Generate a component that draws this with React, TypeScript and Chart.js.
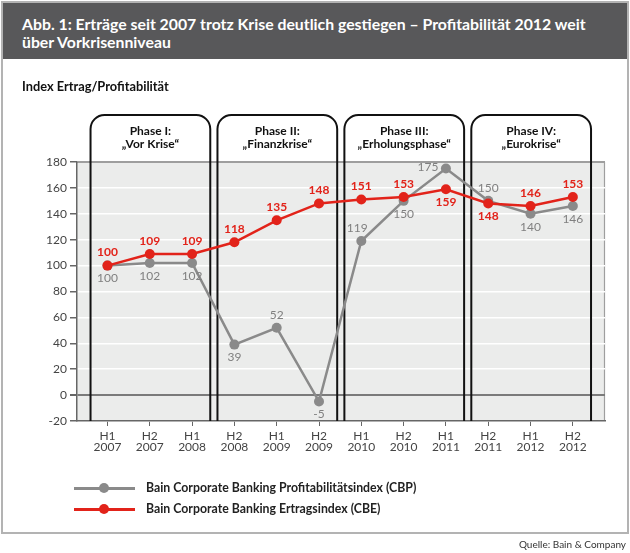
import React, { useEffect, useRef } from 'react';
import { Chart, registerables } from 'chart.js';

Chart.register(...registerables);

// ---- data ----
const halves = ['H1', 'H2', 'H1', 'H2', 'H1', 'H2', 'H1', 'H2', 'H1', 'H2', 'H1', 'H2'];
const years = ['2007', '2007', '2008', '2008', '2009', '2009', '2010', '2010', '2011', '2011', '2012', '2012'];
const cbe = [100, 109, 109, 118, 135, 148, 151, 153, 159, 148, 146, 153];
const cbp = [100, 102, 102, 39, 52, -5, 119, 150, 175, 150, 140, 146];
const yMin = -20;
const yMax = 180;
const yStep = 20;
const phaseTitles = ['Phase I:', 'Phase II:', 'Phase III:', 'Phase IV:'];
const phaseNames = ['\u201EVor Krise\u201C', '\u201EFinanzkrise\u201C', '\u201EErholungsphase\u201C', '\u201EEurokrise\u201C'];
const cbeName = 'Bain Corporate Banking Ertragsindex (CBE)';
const cbpName = 'Bain Corporate Banking Profitabilitätsindex (CBP)';

// label placement (a = above, b = below, l = left)
const cbeLabelPos = ['a', 'a', 'a', 'a', 'a', 'a', 'a', 'a', 'b', 'b', 'a', 'a'];
const cbpLabelPos = ['b', 'b', 'b', 'b', 'a', 'b', 'a', 'b', 'l', 'a', 'b', 'b'];

const RED = '#e2231a';
const GREY = '#8a8a8a';
const FONT = 'Lato, "Open Sans", sans-serif';

const bgPlugin = {
  id: 'plotBg',
  beforeDraw(chart: any) {
    const { ctx, chartArea: a } = chart;
    ctx.save();
    ctx.fillStyle = '#ebeceb';
    ctx.fillRect(a.left, a.top, a.right - a.left, a.bottom - a.top);
    ctx.strokeStyle = '#9e9e9e';
    ctx.lineWidth = 1.2;
    ctx.beginPath();
    ctx.moveTo(a.left, a.top + 0.5);
    ctx.lineTo(a.right - 0.5, a.top + 0.5);
    ctx.lineTo(a.right - 0.5, a.bottom);
    ctx.stroke();
    ctx.restore();
  },
};

const phasePlugin = {
  id: 'phases',
  beforeDatasetsDraw(chart: any) {
    const { ctx, chartArea: a } = chart;
    const xs = chart.scales.x;
    ctx.save();
    ctx.strokeStyle = '#111';
    ctx.lineWidth = 2;
    const top = a.top - 47;
    const rad = 14;
    for (let k = 0; k < phaseTitles.length; k++) {
      const l = xs.getPixelForValue(3 * k - 0.4);
      const r = xs.getPixelForValue(3 * k + 2.43);
      ctx.beginPath();
      ctx.moveTo(l, a.bottom);
      ctx.lineTo(l, top + rad);
      ctx.arcTo(l, top, l + rad, top, rad);
      ctx.lineTo(r - rad, top);
      ctx.arcTo(r, top, r, top + rad, rad);
      ctx.lineTo(r, a.bottom);
      ctx.stroke();
      ctx.fillStyle = '#111';
      ctx.font = `bold 12px ${FONT}`;
      ctx.textAlign = 'center';
      ctx.textBaseline = 'middle';
      const cx = (l + r) / 2;
      ctx.fillText(phaseTitles[k], cx, top + 16);
      ctx.fillText(phaseNames[k], cx, top + 29);
    }
    ctx.restore();
  },
};

const labelPlugin = {
  id: 'valueLabels',
  afterDatasetsDraw(chart: any) {
    const { ctx } = chart;
    ctx.save();
    ctx.textAlign = 'center';
    ctx.textBaseline = 'middle';
    const sets = [
      { idx: 0, vals: cbe, pos: cbeLabelPos, color: RED, font: `bold 12px ${FONT}` },
      { idx: 1, vals: cbp, pos: cbpLabelPos, color: '#808080', font: `12px ${FONT}` },
    ];
    for (const s of sets) {
      const meta = chart.getDatasetMeta(s.idx);
      ctx.fillStyle = s.color;
      ctx.font = s.font;
      meta.data.forEach((pt: any, i: number) => {
        let dx = 0;
        let dy = 0;
        const p = s.pos[i];
        if (p === 'a') dy = -13;
        else if (p === 'b') dy = 13;
        else if (p === 'l') { dx = -18; dy = -1; }
        if (s.idx === 1 && i === 6) dx = -4;
        ctx.fillText(String(s.vals[i]), pt.x + dx, pt.y + dy);
      });
    }
    ctx.restore();
  },
};

function ChartCanvas() {
  const ref = useRef<HTMLCanvasElement>(null);
  useEffect(() => {
    if (!ref.current) return;
    const ticksY: number[] = [];
    for (let v = yMin; v <= yMax; v += yStep) ticksY.push(v);
    const chart = new Chart(ref.current, {
      type: 'line',
      data: {
        datasets: [
          {
            label: cbeName,
            data: cbe.map((y, i) => ({ x: i, y })),
            borderColor: RED,
            backgroundColor: RED,
            pointBackgroundColor: RED,
            pointBorderColor: RED,
            borderWidth: 2.5,
            pointRadius: 5,
            pointBorderWidth: 0,
            tension: 0,
          },
          {
            label: cbpName,
            data: cbp.map((y, i) => ({ x: i, y })),
            borderColor: GREY,
            backgroundColor: GREY,
            pointBackgroundColor: GREY,
            pointBorderColor: GREY,
            borderWidth: 2.5,
            pointRadius: 5,
            pointBorderWidth: 0,
            tension: 0,
          },
        ],
      },
      options: {
        animation: false,
        responsive: false,
        maintainAspectRatio: false,
        layout: { padding: { top: 162, right: 25, left: 0, bottom: 0 } },
        plugins: { legend: { display: false }, tooltip: { enabled: false } },
        scales: {
          x: {
            type: 'linear',
            min: -0.72,
            max: 11.76,
            afterFit: (s: any) => { s.height = 132; },
            afterBuildTicks: (s: any) => { s.ticks = halves.map((_, i) => ({ value: i })); },
            ticks: {
              autoSkip: false,
              maxRotation: 0,
              padding: 4,
              color: '#444',
              font: { family: FONT, size: 12, lineHeight: 0.95 },
              callback: (v: any) => {
                const i = Number(v);
                return Number.isInteger(i) && i >= 0 && i < halves.length ? [halves[i], years[i]] : '';
              },
            },
            grid: { drawOnChartArea: false, drawTicks: true, tickLength: 5, color: '#666', lineWidth: 1 },
            border: { display: true, color: '#666', width: 1.5 },
          },
          y: {
            min: yMin,
            max: yMax,
            afterFit: (s: any) => { s.width = 77; },
            afterBuildTicks: (s: any) => { s.ticks = ticksY.map((v) => ({ value: v })); },
            ticks: {
              padding: 3,
              color: '#444',
              font: { family: FONT, size: 12 },
            },
            grid: {
              drawTicks: true,
              tickLength: 7,
              tickColor: '#666',
              color: (c: any) => (c.tick && c.tick.value === 0 ? '#7a7a7a' : c.tick && c.tick.value === yMax ? '#9e9e9e' : '#ffffff'),
              lineWidth: (c: any) => (c.tick && c.tick.value === 0 ? 2 : 1.5),
            },
            border: { display: true, color: '#666', width: 1.5 },
          },
        },
      },
      plugins: [bgPlugin, phasePlugin, labelPlugin],
    } as any);
    return () => chart.destroy();
  }, []);
  return <canvas ref={ref} width={630} height={553} style={{ position: 'absolute', left: 0, top: 0, width: 630, height: 553 }} />;
}

function LegendRow({ color, text, y }: { color: string; text: string; y: number }) {
  return (
    <>
      <div style={{ position: 'absolute', left: 74, top: y - 1, width: 61, height: 2.5, background: color }} />
      <div style={{ position: 'absolute', left: 99, top: y - 5, width: 10, height: 10, borderRadius: 5, background: color }} />
      <div style={{ position: 'absolute', left: 146, top: y - 9, height: 18, lineHeight: '18px', fontSize: 12.3, fontWeight: 700, color: '#222', whiteSpace: 'nowrap' }}>{text}</div>
    </>
  );
}

export default function App() {
  return (
    <div style={{ position: 'absolute', left: 0, top: 0, width: 630, height: 553, background: '#fff', fontFamily: FONT, overflow: 'hidden' }}>
      <ChartCanvas />
      <div style={{ position: 'absolute', left: 1, top: 1, width: 628, height: 533, boxSizing: 'border-box', border: '2px solid #b3b3b3', pointerEvents: 'none' }} />
      <div style={{ position: 'absolute', left: 3, top: 3, width: 624, height: 56, background: '#58585a', color: '#fff', fontWeight: 700, fontSize: 15.8, lineHeight: '18px', boxSizing: 'border-box', padding: '12px 0 0 19px', whiteSpace: 'nowrap' }}>
        Abb. 1: Erträge seit 2007 trotz Krise deutlich gestiegen – Profitabilität 2012 weit
        <br />
        über Vorkrisenniveau
      </div>
      <div style={{ position: 'absolute', left: 22, top: 77, fontSize: 12.8, fontWeight: 700, color: '#111', lineHeight: '18px', whiteSpace: 'nowrap' }}>Index Ertrag/Profitabilität</div>
      <LegendRow color={GREY} text={cbpName} y={488} />
      <LegendRow color={RED} text={cbeName} y={509} />
      <div style={{ position: 'absolute', right: 4, top: 537, fontSize: 10, color: '#333', lineHeight: '14px', whiteSpace: 'nowrap' }}>Quelle: Bain &amp; Company</div>
    </div>
  );
}
